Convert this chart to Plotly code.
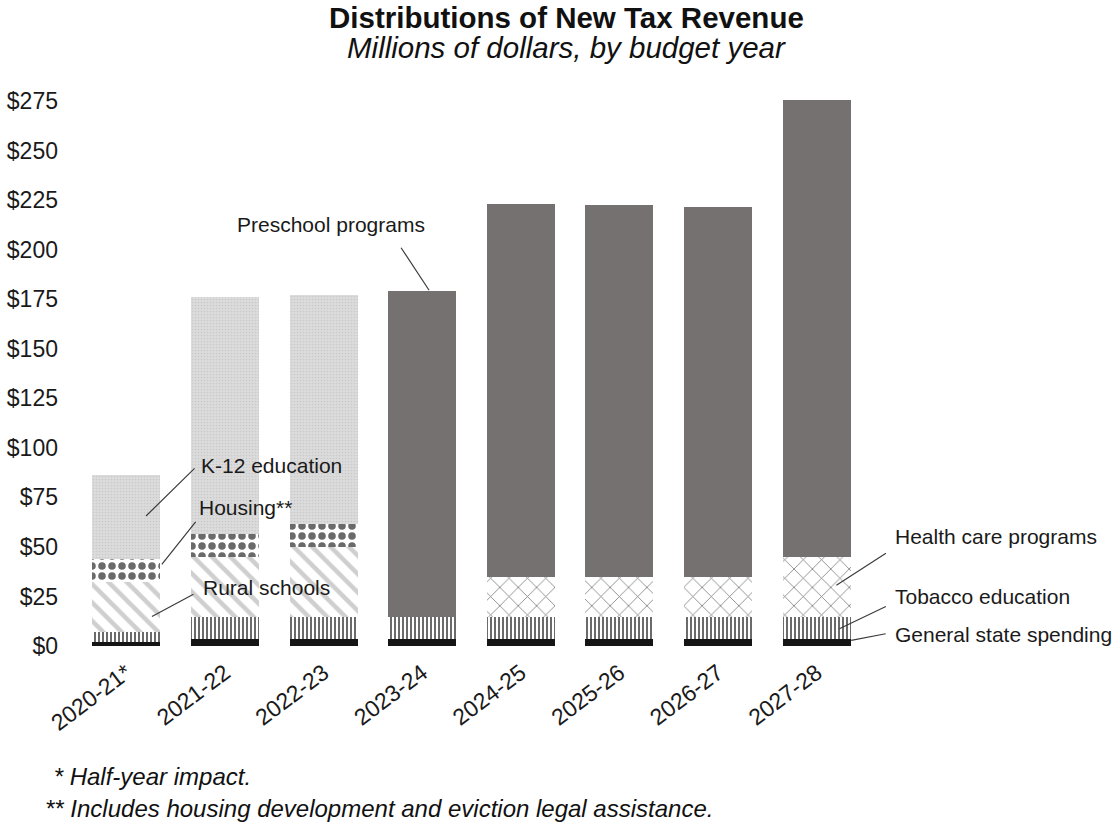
import plotly.graph_objects as go

years = ["2020-21*", "2021-22", "2022-23", "2023-24", "2024-25", "2025-26", "2026-27", "2027-28"]
general_state = [1.9, 3.7, 3.7, 3.7, 3.7, 3.7, 3.7, 3.7]
tobacco_edu = [5.2, 11.1, 11.1, 11.1, 11.1, 11.1, 11.1, 11.1]
rural_schools = [25.3, 30.3, 35.4, None, None, None, None, None]
health_care = [None, None, None, None, 19.9, 19.9, 19.9, 30.0]
housing = [11.3, 11.3, 11.4, None, None, None, None, None]
k12_edu = [42.8, 119.6, 115.6, None, None, None, None, None]
preschool = [None, None, None, 164.5, 188.2, 187.6, 187.0, 230.5]

y_ticks = [0, 25, 50, 75, 100, 125, 150, 175, 200, 225, 250, 275]
y_tick_labels = ["$" + str(v) for v in y_ticks]

FONT = "Liberation Sans, Arial, sans-serif"

fig = go.Figure()

def add(name, vals, color, shape="", fg=None, bg=None, size=8, sol=0.3):
    pat = dict(shape=shape)
    if shape:
        pat.update(fgcolor=fg, bgcolor=bg, size=size, solidity=sol, fillmode="replace")
    fig.add_trace(go.Bar(
        x=years, y=vals, name=name,
        marker=dict(color=color, line=dict(width=0), pattern=pat),
        showlegend=False,
    ))

add("General state spending", general_state, "#151515")
add("Tobacco education", tobacco_edu, "#ffffff", "|", "#5a5a5a", "#ffffff", 4, 0.45)
add("Rural schools", rural_schools, "#ffffff", "\\", "#cfcfcf", "#ffffff", 13, 0.35)
add("Health care programs", health_care, "#ffffff", "x", "#7a7a7a", "#ffffff", 13, 0.12)
add("Housing", housing, "#ffffff", ".", "#6a6a6a", "#ffffff", 10, 0.45)
add("K-12 education", k12_edu, "#d9d9d9", ".", "#c9c9c9", "#dcdcdc", 3, 0.25)
add("Preschool programs", preschool, "#757171")

ann = []
LC = "#3c3c3c"

def label(text, x, y, xref="x"):
    ann.append(dict(text=text, x=x, y=y, xref=xref, yref="y", xanchor="left",
                    yanchor="middle", showarrow=False,
                    font=dict(family=FONT, size=21, color="#1a1a1a")))

def leader(x, y, ax, ay):
    ann.append(dict(text="", x=x, y=y, xref="x", yref="y", ax=ax, ay=ay,
                    showarrow=True, arrowhead=0, arrowwidth=1.2, arrowcolor=LC,
                    standoff=0, startstandoff=0))

label("Preschool programs", 1.10, 212.4)
label("K-12 education", 0.74, 91.3)
label("Housing**", 0.72, 70.1)
label("Rural schools", 0.76, 29.3)
label("Health care programs", 1.034, 55.0, "paper")
label("Tobacco education", 1.034, 25.2, "paper")
label("General state spending", 1.034, 6.05, "paper")

leader(3.07, 179.5, -29, -44)
leader(0.20, 65.6, 50, -49)
leader(0.36, 41.2, 35, -44)
leader(0.26, 14.9, 43, -23)
leader(7.20, 30.6, 51, -33)
leader(7.23, 8.7, 48, -23)
leader(7.35, 2.8, 36, -7)

ann.append(dict(text="<b>Distributions of New Tax Revenue</b>", x=0.621, y=1.1333,
                xref="paper", yref="paper", xanchor="center", yanchor="middle",
                showarrow=False, font=dict(family=FONT, size=29.5, color="#111111")))
ann.append(dict(text="<i>Millions of dollars, by budget year</i>", x=0.621, y=1.0775,
                xref="paper", yref="paper", xanchor="center", yanchor="middle",
                showarrow=False, font=dict(family=FONT, size=29.5, color="#111111")))
ann.append(dict(text="<i> * Half-year impact.</i>", x=-0.040, y=-0.236,
                xref="paper", yref="paper", xanchor="left", yanchor="middle",
                showarrow=False, font=dict(family=FONT, size=24, color="#111111")))
ann.append(dict(text="<i>** Includes housing development and eviction legal assistance.</i>",
                x=-0.043, y=-0.292, xref="paper", yref="paper", xanchor="left",
                yanchor="middle", showarrow=False,
                font=dict(family=FONT, size=24, color="#111111")))

fig.update_layout(
    width=1115, height=836,
    margin=dict(l=77, r=249, t=91, b=190, autoexpand=False),
    barmode="stack", bargap=0.31,
    plot_bgcolor="#ffffff", paper_bgcolor="#ffffff",
    annotations=ann,
    font=dict(family=FONT, color="#1a1a1a"),
)
fig.update_xaxes(range=[-0.5, 7.5], showgrid=False, showline=False, zeroline=False,
                 ticks="", tickangle=-37, ticklabelstandoff=8,
                 tickfont=dict(family=FONT, size=23, color="#1a1a1a"))
fig.update_yaxes(range=[0, 280], tickvals=y_ticks, ticktext=y_tick_labels, showgrid=False,
                 showline=False, zeroline=False, ticks="", ticklabelstandoff=18,
                 tickfont=dict(family=FONT, size=23, color="#1a1a1a"))

fig.write_html("out.html")
